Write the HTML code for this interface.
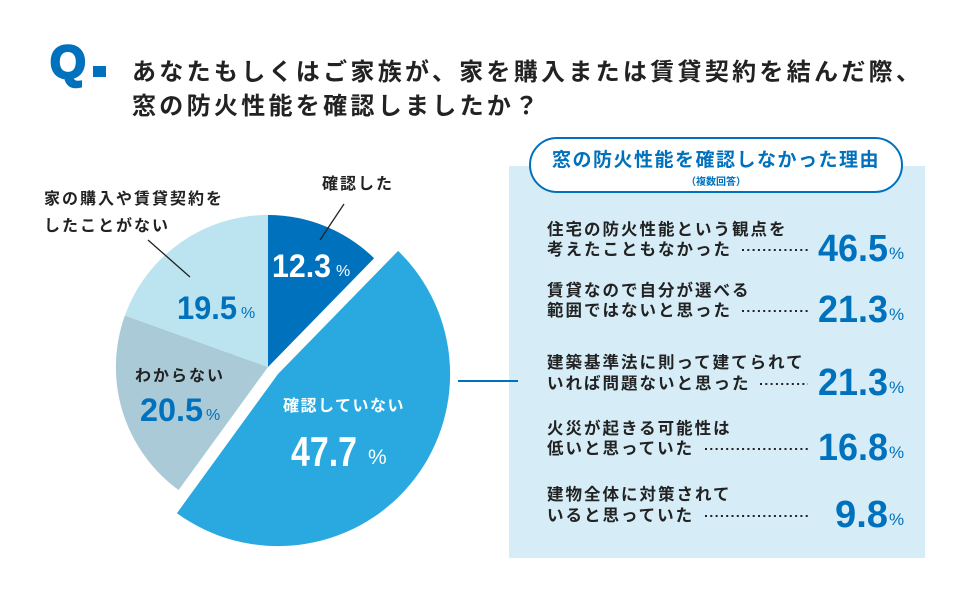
<!DOCTYPE html>
<html><head><meta charset="utf-8"><style>
body{margin:0;background:#fff;}
svg text{font-family:"Liberation Sans","Noto Sans CJK JP",sans-serif;}
.j{font-weight:bold;fill:#222;}
.n{font-weight:bold;}
</style></head><body>
<svg width="970" height="600" viewBox="0 0 970 600" xmlns="http://www.w3.org/2000/svg">
<rect width="970" height="600" fill="#fff"/>
<text x="50" y="78" font-size="46" font-weight="900" fill="#0071bc" stroke="#0071bc" stroke-width="2.5" style="font-family:'Liberation Sans',sans-serif">Q</text>
<rect x="93" y="66" width="13" height="11" fill="#0071bc"/>
<text class="j" x="132" y="80" font-size="24" letter-spacing="3.3">あなたもしくはご家族が、家を購入または賃貸契約を結んだ際、</text>
<text class="j" x="132" y="114" font-size="24" letter-spacing="3.3">窓の防火性能を確認しましたか？</text>

<rect x="509" y="166" width="416" height="392" fill="#d6edf8"/>
<rect x="530" y="138" width="372" height="54" rx="27" fill="#fff" stroke="#0071bc" stroke-width="2"/>
<text x="716" y="166" font-size="19" font-weight="bold" fill="#0071bc" text-anchor="middle" letter-spacing="1.5">窓の防火性能を確認しなかった理由</text>
<text x="716" y="185" font-size="10" font-weight="bold" fill="#0071bc" text-anchor="middle">（複数回答）</text>
<line x1="458" y1="381" x2="518" y2="381" stroke="#0071bc" stroke-width="2"/>

<g font-size="16.5" class="j" letter-spacing="2">
<text x="547" y="235">住宅の防火性能という観点を</text>
<text x="547" y="255">考えたこともなかった</text>
<text x="547" y="296">賃貸なので自分が選べる</text>
<text x="547" y="316">範囲ではないと思った</text>
<text x="547" y="368">建築基準法に則って建てられて</text>
<text x="547" y="389">いれば問題ないと思った</text>
<text x="547" y="434">火災が起きる可能性は</text>
<text x="547" y="454">低いと思っていた</text>
<text x="547" y="500">建物全体に対策されて</text>
<text x="547" y="521">いると思っていた</text>
</g>
<g stroke="#222" stroke-width="2" stroke-dasharray="2 3.3">
<line x1="742" y1="250" x2="808" y2="250"/>
<line x1="742" y1="311" x2="808" y2="311"/>
<line x1="760" y1="384" x2="808" y2="384"/>
<line x1="705" y1="449" x2="808" y2="449"/>
<line x1="705" y1="516" x2="808" y2="516"/>
</g>
<g fill="#0071bc">
<text class="n" x="818" y="261" font-size="38" textLength="70" lengthAdjust="spacingAndGlyphs">46.5</text>
<text class="n" x="818" y="322" font-size="38" textLength="70" lengthAdjust="spacingAndGlyphs">21.3</text>
<text class="n" x="818" y="395" font-size="38" textLength="70" lengthAdjust="spacingAndGlyphs">21.3</text>
<text class="n" x="818" y="460" font-size="38" textLength="70" lengthAdjust="spacingAndGlyphs">16.8</text>
<text class="n" x="835" y="527" font-size="38" textLength="53" lengthAdjust="spacingAndGlyphs">9.8</text>
<g font-size="17"><text x="889" y="259">%</text><text x="889" y="320">%</text><text x="889" y="393">%</text><text x="889" y="458">%</text><text x="889" y="525">%</text></g>
</g>

<path d="M268,367 L268,215 A152,152 0 0 1 374.1,258.2 Z" fill="#0071bc"/>
<path d="M268,367 L178.6,490 A152,152 0 0 1 124.9,315.5 Z" fill="#a9cad6"/>
<path d="M268,367 L124.9,315.5 A152,152 0 0 1 268,215 Z" fill="#bbe3f0"/>
<path d="M278,374 L398.1,250.9 A172,172 0 0 1 176.9,513.2 Z" fill="#29a9e0"/>

<line x1="320" y1="240" x2="344" y2="204" stroke="#222" stroke-width="1.3"/>
<line x1="148" y1="240" x2="190" y2="277" stroke="#222" stroke-width="1.3"/>
<text class="j" x="322" y="189" font-size="16" letter-spacing="2">確認した</text>
<text class="j" x="44" y="204" font-size="16" letter-spacing="2">家の購入や賃貸契約を</text>
<text class="j" x="44" y="231" font-size="16" letter-spacing="2">したことがない</text>
<text class="j" x="135" y="381" font-size="16" letter-spacing="2">わからない</text>
<text x="283" y="411" font-size="16" font-weight="bold" fill="#fff" letter-spacing="1.5">確認していない</text>

<text class="n" x="272" y="277" font-size="32" fill="#fff" textLength="59" lengthAdjust="spacingAndGlyphs">12.3</text><text x="336" y="276" font-size="16" fill="#fff">%</text>
<text class="n" x="177" y="319" font-size="32" fill="#0071bc" textLength="60" lengthAdjust="spacingAndGlyphs">19.5</text><text x="241" y="318" font-size="16" fill="#0071bc">%</text>
<text class="n" x="140" y="421" font-size="32" fill="#0071bc" textLength="63" lengthAdjust="spacingAndGlyphs">20.5</text><text x="206" y="420" font-size="16" fill="#0071bc">%</text>
<text class="n" x="291" y="466" font-size="42" fill="#fff" textLength="66" lengthAdjust="spacingAndGlyphs">47.7</text><text x="368" y="464" font-size="21" fill="#fff">%</text>
</svg>
</body></html>
